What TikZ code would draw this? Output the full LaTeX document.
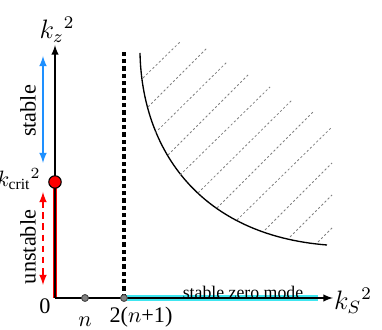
\documentclass[tikz,border=0pt]{standalone}
\usepackage{fontspec}
\setmainfont{Liberation Serif}
\usepackage{xcolor}
\usepackage{tikz}
\usetikzlibrary{arrows,positioning}

\definecolor{zerocyan}{RGB}{64,230,240}
\definecolor{stblue}{RGB}{30,144,255}

\begin{document}
\begin{tikzpicture}[x=0.45pt, y=-0.45pt,
        axis/.style={->, >=latex, line width=0.5pt},
        marker/.style={<->, >=latex, line width=0.6pt},
        hatch/.style={gray, line width=0.35pt, dash pattern=on 1pt off 1pt},
        dot/.style={circle, draw=black!70, fill=gray, inner sep=0pt, minimum size=3pt},
        lbl/.style={font=\large, inner sep=1pt}
    ]
        \useasboundingbox (0,0) rectangle (382,330);

        % ── Axes ──────────────────────────────────────────────────────────
        \coordinate (O)    at (55, 298);
        \coordinate (ytip) at (55,  45);
        \coordinate (xtip) at (333, 298);
        \coordinate (kc)   at (55, 182);
        \coordinate (zend) at (318, 298);

        \node[dot] (pn)  at (85, 298)  {};
        \node[dot] (pnn) at (124, 298) {};
        \coordinate (vtop) at (124, 52);

        % threshold line at 2(n+1)
        \draw[line width=1.4pt, dash pattern=on 2pt off 1.3pt] (pnn.center) -- (vtop);

        % stable zero mode band
        \draw[zerocyan, line width=2.3pt] (pnn.center) -- (zend);
        % unstable band
        \draw[red, line width=2.1pt] (O) -- (kc);

        \draw[axis] (O) -- (ytip);
        \draw[axis] (O) -- (xtip);
        \node[dot] at (pn.center)  {};
        \node[dot] at (pnn.center) {};
        \node[circle, draw=black, fill=red, inner sep=0pt, minimum size=5.6pt, line width=0.5pt] (crit) at (kc) {};

        % ── Labels ────────────────────────────────────────────────────────
        \node[lbl] (ylab) at (57, 30)   {$k_z{}^2$};
        \node[lbl] (xlab) at (353, 301) {$k_S{}^2$};
        \node[lbl, font=\normalsize, anchor=east, inner sep=0pt] (clab) at (41, 179) {$k_{\mathrm{crit}}{}^2$};
        \node (zero) at (45, 306) {0};
        \node (nlab) at (85, 322) {$n$};
        \node (nnlab) at (141, 317) {2($n$+1)};
        \node[font=\footnotesize] (szm) at (243, 292) {stable zero mode};

        % ── Stability markers ─────────────────────────────────────────────
        \coordinate (st1) at (43, 56);
        \coordinate (st2) at (43, 163);
        \coordinate (us1) at (43, 192);
        \coordinate (us2) at (43, 285);
        \draw[marker, stblue] (st1) -- (st2);
        \draw[marker, red, dash pattern=on 3pt off 2pt] (us1) -- (us2);
        \node[rotate=90] (stab)   at (28, 111) {stable};
        \node[rotate=90] (unstab) at (28, 247) {unstable};

        % ── Boundary curve and hatching ───────────────────────────────────
        \coordinate (ctop) at (140, 53);
        \coordinate (cbot) at (327, 245);
        \draw[line width=0.6pt] (ctop) .. controls (142,150) and (200,235) .. (cbot);

        \foreach \xa/\ya/\xb/\yb in {143/78/180/42, 148/107/207/48, 155/133/227/62,
                168/155/248/75, 180/175/270/87, 198/193/292/100, 217/208/313/112,
                237/220/332/127, 265/230/332/163, 290/237/332/195, 318/242/332/228}
            \draw[hatch] (\xa,\ya) -- (\xb,\yb);

    \end{tikzpicture}
\end{document}
